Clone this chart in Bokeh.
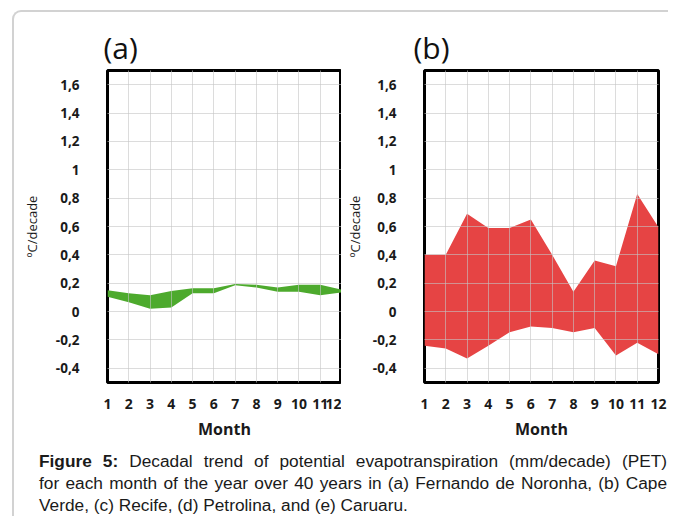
from bokeh.plotting import figure
from bokeh.models import Range1d, FixedTicker, Div
from bokeh.layouts import row, column
from bokeh.embed import file_html
from bokeh.resources import INLINE

# ---- data ----
months = [1, 2, 3, 4, 5, 6, 7, 8, 9, 10, 11, 12]
month_labels = ["1", "2", "3", "4", "5", "6", "7", "8", "9", "10", "11", "12"]

# (a) Fernando de Noronha - band limits (upper / lower)
a_upper = [0.15, 0.13, 0.115, 0.145, 0.165, 0.165, 0.195, 0.19, 0.17, 0.19, 0.19, 0.155]
a_lower = [0.105, 0.065, 0.02, 0.028, 0.13, 0.13, 0.185, 0.17, 0.14, 0.14, 0.115, 0.135]

# (b) Cape Verde - band limits (upper / lower)
b_upper = [0.40, 0.40, 0.69, 0.59, 0.59, 0.65, 0.40, 0.14, 0.36, 0.32, 0.83, 0.595]
b_lower = [-0.24, -0.26, -0.33, -0.24, -0.145, -0.105, -0.115, -0.145, -0.115, -0.31, -0.22, -0.30]

y_ticks = [-0.4, -0.2, 0, 0.2, 0.4, 0.6, 0.8, 1, 1.2, 1.4, 1.6]
y_tick_labels = ["-0,4", "-0,2", "0", "0,2", "0,4", "0,6", "0,8", "1", "1,2", "1,4", "1,6"]

FONT = "Open Sans"


def make_panel(title, upper, lower, color, width, left, right, title_offset, ylabel_standoff):
    p = figure(width=width, height=436, x_range=Range1d(1, 12), y_range=Range1d(-0.5, 1.7),
               output_backend="svg", toolbar_location=None,
               min_border_left=left, min_border_right=right,
               min_border_top=58, min_border_bottom=66)
    p.varea(x=months, y1=lower, y2=upper, fill_color=color)

    p.title.text = title
    p.title.text_font = "Open Sans"
    p.title.text_font_size = "30px"
    p.title.text_font_style = "normal"
    p.title.text_color = "#111111"
    p.title.offset = title_offset
    p.title.standoff = 5

    p.outline_line_color = "black"
    p.outline_line_width = 3
    p.outline_line_alpha = 1.0

    p.xaxis.ticker = FixedTicker(ticks=months)
    p.xaxis.major_label_overrides = dict(zip(months, month_labels))
    p.yaxis.ticker = FixedTicker(ticks=y_ticks)
    p.yaxis.major_label_overrides = dict(zip(y_ticks, y_tick_labels))

    for ax in (p.xaxis[0], p.yaxis[0]):
        ax.axis_line_color = None
        ax.major_tick_line_color = None
        ax.minor_tick_line_color = None
        ax.major_tick_in = 0
        ax.major_tick_out = 0
        ax.major_label_text_font = FONT
        ax.major_label_text_font_style = "bold"
        ax.major_label_text_color = "#1a1a1a"
        ax.axis_label_text_font = FONT
        ax.axis_label_text_color = "#1a1a1a"

    p.xaxis.major_label_text_font_size = "14px"
    p.xaxis.major_label_standoff = 16
    p.xaxis.axis_label = "Month"
    p.xaxis.axis_label_text_font_size = "16px"
    p.xaxis.axis_label_text_font_style = "bold"
    p.xaxis.axis_label_standoff = 6

    p.yaxis.major_label_text_font_size = "13.5px"
    p.yaxis.major_label_standoff = 28
    p.yaxis.axis_label = "ºC/decade"
    p.yaxis.axis_label_text_font_size = "13px"
    p.yaxis.axis_label_text_font_style = "normal"
    p.yaxis.axis_label_standoff = ylabel_standoff

    for g in (p.xgrid[0], p.ygrid[0]):
        g.grid_line_color = "#c4c4c4"
        g.grid_line_alpha = 0.6
        g.grid_line_width = 1
        g.level = "overlay"

    p.background_fill_color = "white"
    p.border_fill_color = None
    return p


pa = make_panel("(a)", a_upper, a_lower, "#4DAA2D", 93 + 234 + 0, 93, 0, -4, 12)
pb = make_panel("(b)", b_upper, b_lower, "#E64444", 83 + 234 + 10, 83, 10, -11, 6)

line_style = ("text-align: justify; text-align-last: justify; white-space: nowrap; "
              "line-height: 22px; height: 22px;")
caption_html = (
    '<div style="width: 628px; '
    'font-family: \'Liberation Sans\', Arial, sans-serif; font-size: 17.3px; color: #1a1a1a;">'
    f'<div style="{line_style}"><b>Figure 5:</b> Decadal trend of potential evapotranspiration (mm/decade) (PET)</div>'
    f'<div style="{line_style}">for each month of the year over 40 years in (a) Fernando de Noronha, (b) Cape</div>'
    '<div style="white-space: nowrap; line-height: 22px; height: 22px;">Verde, (c) Recife, (d) Petrolina, and (e) Caruaru.</div>'
    '</div>'
)
caption = Div(text=caption_html, width=628, height=66, margin=(2, 0, 0, 25),
              styles={"overflow": "visible"})

layout = column(row(pa, pb), caption, margin=(10, 0, 0, 12),
                styles={"border-top": "2px solid #d2d2d2", "border-left": "2px solid #d2d2d2",
                        "border-top-left-radius": "9px"})

open("out.html", "w").write(file_html(layout, INLINE))
